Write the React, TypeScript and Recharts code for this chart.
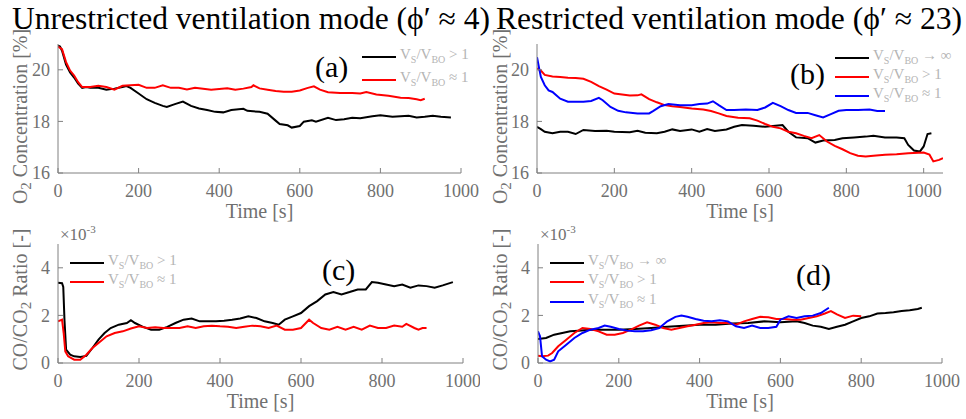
import { LineChart, Line, XAxis, YAxis, Legend, Label } from "recharts"

const FONT = "'Liberation Serif', 'Times New Roman', serif"
const AXIS = "#808080"
const TICK_TEXT = "#707070"
const LEGEND_TEXT = "#b4b4b4"

const xTicks = [0, 200, 400, 600, 800, 1000]
const o2Ticks = [16, 18, 20]
const coTicks = [0, 2, 4]

// (a) O2, unrestricted mode
const aBlackT = [0, 5, 10, 20, 30, 40, 50, 60, 70, 80, 100, 120, 140, 160, 170, 180, 200, 220, 240, 260, 270, 290, 310, 330, 350, 370, 390, 410, 430, 460, 470, 500, 520, 540, 550, 570, 580, 600, 610, 630, 640, 670, 690, 710, 730, 750, 780, 800, 830, 850, 870, 890, 910, 930, 950, 975]
const aBlackV = [20.94, 20.9, 20.74, 20.2, 19.9, 19.7, 19.46, 19.3, 19.33, 19.3, 19.3, 19.23, 19.27, 19.33, 19.37, 19.3, 19.08, 18.86, 18.72, 18.6, 18.56, 18.67, 18.77, 18.6, 18.5, 18.44, 18.37, 18.35, 18.44, 18.49, 18.41, 18.37, 18.3, 18.03, 17.9, 17.85, 17.76, 17.82, 17.99, 18.04, 17.99, 18.14, 18.05, 18.08, 18.14, 18.12, 18.2, 18.24, 18.18, 18.2, 18.22, 18.15, 18.18, 18.22, 18.18, 18.15]
const aRedT = [0, 10, 20, 30, 40, 50, 60, 80, 100, 120, 140, 160, 180, 200, 220, 240, 260, 280, 300, 320, 340, 360, 380, 400, 420, 440, 460, 480, 485, 500, 520, 540, 560, 580, 600, 620, 635, 650, 670, 700, 730, 750, 765, 790, 820, 850, 870, 890, 900, 910]
const aRedV = [20.9, 20.8, 20.3, 19.97, 19.78, 19.52, 19.33, 19.33, 19.38, 19.33, 19.23, 19.38, 19.4, 19.42, 19.3, 19.3, 19.4, 19.3, 19.3, 19.24, 19.3, 19.27, 19.23, 19.26, 19.28, 19.23, 19.27, 19.33, 19.4, 19.28, 19.23, 19.18, 19.15, 19.15, 19.2, 19.3, 19.36, 19.23, 19.13, 19.1, 19.1, 19.08, 19.14, 19.04, 18.99, 18.92, 18.91, 18.86, 18.82, 18.88]

// (b) O2, restricted mode
const bBlackT = [0, 10, 20, 40, 60, 80, 100, 120, 150, 180, 200, 240, 260, 280, 310, 330, 350, 370, 400, 420, 440, 460, 490, 510, 530, 560, 590, 610, 635, 650, 670, 700, 720, 740, 770, 790, 820, 850, 870, 900, 930, 950, 960, 975, 990, 1000, 1010, 1020]
const bBlackV = [17.79, 17.7, 17.6, 17.54, 17.6, 17.6, 17.51, 17.67, 17.63, 17.64, 17.6, 17.58, 17.64, 17.56, 17.54, 17.6, 17.69, 17.63, 17.69, 17.6, 17.7, 17.63, 17.69, 17.79, 17.86, 17.83, 17.79, 17.82, 17.86, 17.6, 17.38, 17.35, 17.18, 17.26, 17.28, 17.35, 17.38, 17.41, 17.44, 17.38, 17.38, 17.35, 17.09, 16.87, 16.83, 17.03, 17.51, 17.54]
const bRedT = [0, 10, 20, 40, 60, 80, 100, 120, 140, 160, 180, 200, 220, 240, 260, 270, 290, 310, 330, 350, 370, 400, 430, 450, 470, 490, 520, 550, 570, 590, 610, 630, 650, 670, 690, 710, 730, 750, 770, 790, 810, 830, 850, 870, 900, 930, 960, 1000, 1015, 1025, 1040, 1050]
const bRedV = [20.06, 19.97, 19.8, 19.74, 19.72, 19.69, 19.68, 19.65, 19.53, 19.37, 19.23, 19.08, 19.04, 19.0, 19.01, 19.05, 18.86, 18.74, 18.63, 18.59, 18.56, 18.5, 18.46, 18.4, 18.31, 18.21, 18.14, 18.12, 18.03, 17.9, 17.79, 17.73, 17.6, 17.54, 17.44, 17.35, 17.47, 17.22, 17.05, 16.92, 16.77, 16.67, 16.64, 16.67, 16.71, 16.73, 16.77, 16.79, 16.71, 16.45, 16.51, 16.58]
const bBlueT = [0, 5, 10, 20, 30, 40, 60, 80, 100, 120, 140, 160, 170, 190, 210, 230, 260, 290, 300, 320, 340, 370, 400, 420, 440, 455, 470, 490, 510, 540, 570, 590, 610, 630, 650, 670, 700, 720, 740, 760, 780, 800, 830, 860, 880, 900]
const bBlueV = [20.49, 20.1, 19.72, 19.4, 19.2, 19.14, 18.88, 18.76, 18.76, 18.76, 18.79, 18.91, 18.82, 18.56, 18.41, 18.35, 18.31, 18.31, 18.4, 18.59, 18.67, 18.63, 18.63, 18.67, 18.69, 18.78, 18.63, 18.44, 18.44, 18.46, 18.44, 18.54, 18.72, 18.59, 18.44, 18.33, 18.33, 18.24, 18.15, 18.28, 18.41, 18.44, 18.44, 18.46, 18.4, 18.4]

// (c) CO/CO2, unrestricted mode (x 1e-3)
const cBlackT = [0, 10, 13, 16, 20, 30, 40, 55, 70, 85, 100, 115, 130, 150, 170, 180, 190, 210, 230, 250, 270, 290, 310, 330, 350, 370, 390, 410, 430, 450, 470, 490, 510, 530, 545, 560, 580, 600, 620, 640, 660, 680, 700, 720, 740, 760, 775, 790, 810, 830, 850, 870, 890, 910, 930, 950, 975]
const cBlackV = [3.37, 3.35, 3.2, 1.8, 0.56, 0.35, 0.28, 0.25, 0.3, 0.63, 0.98, 1.26, 1.47, 1.61, 1.68, 1.8, 1.68, 1.52, 1.4, 1.4, 1.52, 1.68, 1.82, 1.87, 1.75, 1.75, 1.75, 1.78, 1.82, 1.87, 1.96, 1.89, 1.75, 1.68, 1.61, 1.82, 1.96, 2.1, 2.39, 2.6, 2.88, 2.98, 2.88, 2.98, 3.09, 3.09, 3.4, 3.37, 3.3, 3.23, 3.3, 3.16, 3.26, 3.23, 3.16, 3.26, 3.4]
const cRedT = [0, 10, 14, 18, 25, 40, 55, 70, 85, 100, 120, 140, 160, 180, 200, 220, 240, 260, 280, 300, 320, 340, 360, 380, 400, 420, 440, 460, 480, 500, 520, 540, 560, 580, 600, 620, 630, 650, 670, 690, 710, 730, 750, 770, 790, 810, 830, 850, 860, 880, 890, 900, 910]
const cRedV = [1.75, 1.82, 1.26, 0.49, 0.28, 0.14, 0.14, 0.35, 0.63, 0.84, 1.12, 1.26, 1.33, 1.45, 1.54, 1.47, 1.5, 1.47, 1.47, 1.47, 1.54, 1.47, 1.54, 1.57, 1.54, 1.52, 1.47, 1.52, 1.57, 1.54, 1.47, 1.57, 1.4, 1.4, 1.47, 1.82, 1.68, 1.47, 1.4, 1.52, 1.4, 1.52, 1.4, 1.57, 1.47, 1.47, 1.57, 1.52, 1.64, 1.47, 1.4, 1.47, 1.47]

// (d) CO/CO2, restricted mode (x 1e-3)
const dBlackT = [0, 20, 40, 60, 80, 100, 130, 160, 200, 240, 280, 320, 360, 400, 440, 480, 520, 560, 600, 640, 660, 680, 700, 720, 740, 760, 780, 800, 820, 840, 860, 880, 900, 920, 940, 950]
const dBlackV = [1.01, 1.05, 1.19, 1.26, 1.33, 1.36, 1.4, 1.4, 1.4, 1.43, 1.47, 1.52, 1.57, 1.61, 1.61, 1.66, 1.68, 1.75, 1.71, 1.75, 1.68, 1.57, 1.52, 1.43, 1.52, 1.61, 1.75, 1.89, 1.96, 2.08, 2.1, 2.13, 2.18, 2.22, 2.27, 2.32]
const dRedT = [0, 10, 25, 35, 50, 70, 90, 110, 130, 150, 170, 190, 210, 230, 250, 270, 290, 310, 330, 350, 370, 390, 410, 430, 450, 470, 490, 510, 530, 550, 570, 590, 610, 630, 650, 670, 690, 710, 725, 740, 760, 780, 800]
const dRedV = [0.31, 0.28, 0.31, 0.42, 0.7, 0.98, 1.26, 1.47, 1.43, 1.33, 1.19, 1.19, 1.26, 1.4, 1.57, 1.71, 1.61, 1.47, 1.4, 1.47, 1.54, 1.61, 1.68, 1.71, 1.68, 1.68, 1.61, 1.75, 1.85, 1.94, 1.92, 1.85, 1.85, 1.82, 1.82, 1.89, 1.96, 2.08, 2.18, 2.04, 1.89, 1.99, 1.96]
const dBlueT = [0, 5, 10, 20, 30, 40, 50, 70, 90, 110, 130, 150, 165, 180, 200, 220, 240, 260, 280, 300, 320, 340, 355, 370, 390, 410, 430, 450, 470, 490, 510, 530, 550, 570, 590, 600, 620, 640, 660, 680, 700, 720]
const dBlueV = [1.33, 1.12, 0.28, 0.14, 0.07, 0.14, 0.49, 0.77, 1.05, 1.26, 1.4, 1.47, 1.57, 1.52, 1.43, 1.36, 1.33, 1.33, 1.38, 1.47, 1.75, 1.94, 1.99, 1.94, 1.85, 1.78, 1.75, 1.8, 1.75, 1.54, 1.47, 1.57, 1.47, 1.47, 1.52, 1.82, 1.96, 1.89, 1.96, 1.99, 2.1, 2.32]

const pts = (t: number[], v: number[]) => t.map((x, i) => ({ t: x, v: v[i] }))

type Series = { name: string; color: string; data: { t: number; v: number }[] }

function LegendBox({ series, gap }: { series: Series[]; gap: number }) {
  return (
    <div style={{ fontFamily: FONT }}>
      {series.map((s) => (
        <div key={s.name} style={{ display: "flex", alignItems: "center", height: gap }}>
          <svg width={34} height={4} style={{ marginRight: 4 }}>
            <line x1={0} y1={2} x2={34} y2={2} stroke={s.color} strokeWidth={2} />
          </svg>
          <span style={{ color: LEGEND_TEXT, fontSize: 15, lineHeight: "15px", whiteSpace: "nowrap" }}>
            V<sub style={{ fontSize: 10 }}>S</sub>/V<sub style={{ fontSize: 10 }}>BO</sub> {s.name}
          </span>
        </div>
      ))}
    </div>
  )
}

function Panel(props: {
  left: number
  top: number
  width: number
  height: number
  margin: { top: number; right: number; bottom: number; left: number }
  plotH: number
  yWidth: number
  xMax: number
  yDomain: [number, number]
  yTicks: number[]
  yLabel: "o2" | "co"
  series: Series[]
  legendAt: { left: number; top: number; gap: number }
  tag: string
  tagAt: { left: number; top: number }
  exp?: boolean
}) {
  const { margin, yWidth, xMax, yDomain, yTicks, series } = props
  const yLabel = (lp: any) => {
    const vb = lp.viewBox
    const cx = vb.x + 20
    const cy = vb.y + vb.height / 2 + (props.yLabel === "o2" ? 8 : -4)
    return (
      <text
        x={cx}
        y={cy}
        transform={`rotate(-90 ${cx} ${cy})`}
        textAnchor="middle"
        dominantBaseline="central"
        fill={TICK_TEXT}
        fontSize={20}
        style={{ fontFamily: FONT }}
      >
        {props.yLabel === "o2" ? (
          <>
            <tspan>O</tspan>
            <tspan dy={6} fontSize={15}>2</tspan>
            <tspan dy={-6}> Concentration [%]</tspan>
          </>
        ) : (
          <>
            <tspan>CO/CO</tspan>
            <tspan dy={6} fontSize={15}>2</tspan>
            <tspan dy={-6}> Ratio [-]</tspan>
          </>
        )}
      </text>
    )
  }
  const xLabel = (lp: any) => {
    const vb = lp.viewBox
    return (
      <text
        x={vb.x + vb.width / 2}
        y={vb.y + 38}
        textAnchor="middle"
        dominantBaseline="central"
        fill={TICK_TEXT}
        fontSize={20}
        style={{ fontFamily: FONT }}
      >
        Time [s]
      </text>
    )
  }
  const expLabel = (lp: any) => {
    const vb = lp.viewBox
    return (
      <text x={vb.x + vb.width + 2} y={vb.y - 4} fill={TICK_TEXT} fontSize={17} style={{ fontFamily: FONT }}>
        ×10
        <tspan dy={-7} fontSize={11}>-3</tspan>
      </text>
    )
  }
  const tickStyle = { fill: TICK_TEXT, fontSize: 18, style: { fontFamily: FONT } }
  return (
    <div style={{ position: "absolute", left: props.left, top: props.top }}>
      <LineChart width={props.width} height={props.height} data={series[0].data} margin={margin}>
        <XAxis
          dataKey="t"
          type="number"
          domain={[0, xMax]}
          ticks={xTicks}
          height={props.height - margin.top - margin.bottom - props.plotH}
          allowDataOverflow
          stroke={AXIS}
          tick={tickStyle}
          tickSize={-5}
          tickMargin={16}
          interval={0}
        >
          <Label content={xLabel} />
        </XAxis>
        <XAxis
          xAxisId="top"
          orientation="top"
          dataKey="t"
          type="number"
          domain={[0, xMax]}
          ticks={xTicks}
          height={0}
          allowDataOverflow
          stroke={AXIS}
          tick={false}
          tickSize={-5}
        />
        <YAxis
          type="number"
          domain={yDomain}
          ticks={yTicks}
          width={yWidth}
          allowDataOverflow
          stroke={AXIS}
          tick={tickStyle}
          tickSize={-5}
          tickMargin={13}
          interval={0}
        >
          <Label content={yLabel} />
          {props.exp ? <Label content={expLabel} /> : null}
        </YAxis>
        <YAxis
          yAxisId="r"
          orientation="right"
          type="number"
          domain={yDomain}
          ticks={yTicks}
          width={0}
          allowDataOverflow
          stroke={AXIS}
          tick={false}
          tickSize={-5}
        />
        {series.map((s) => (
          <Line
            key={s.name}
            data={s.data}
            dataKey="v"
            name={s.name}
            stroke={s.color}
            strokeWidth={2}
            dot={false}
            isAnimationActive={false}
          />
        ))}
        <Legend
          layout="vertical"
          align="center"
          verticalAlign="middle"
          wrapperStyle={{ left: props.legendAt.left, top: props.legendAt.top, width: 130 }}
          content={() => <LegendBox series={series} gap={props.legendAt.gap} />}
        />
      </LineChart>
      <div
        style={{
          position: "absolute",
          left: props.tagAt.left,
          top: props.tagAt.top,
          fontFamily: FONT,
          fontSize: 30,
          lineHeight: "30px",
          color: "#000",
        }}
      >
        {props.tag}
      </div>
    </div>
  )
}

const aSeries: Series[] = [
  { name: "> 1", color: "#000000", data: pts(aBlackT, aBlackV) },
  { name: "≈ 1", color: "#ff0000", data: pts(aRedT, aRedV) },
]
const bSeries: Series[] = [
  { name: "→ ∞", color: "#000000", data: pts(bBlackT, bBlackV) },
  { name: "> 1", color: "#ff0000", data: pts(bRedT, bRedV) },
  { name: "≈ 1", color: "#0000ff", data: pts(bBlueT, bBlueV) },
]
const cSeries: Series[] = [
  { name: "> 1", color: "#000000", data: pts(cBlackT, cBlackV) },
  { name: "≈ 1", color: "#ff0000", data: pts(cRedT, cRedV) },
]
const dSeries: Series[] = [
  { name: "→ ∞", color: "#000000", data: pts(dBlackT, dBlackV) },
  { name: "> 1", color: "#ff0000", data: pts(dRedT, dRedV) },
  { name: "≈ 1", color: "#0000ff", data: pts(dBlueT, dBlueV) },
]

export default function App() {
  return (
    <div
      style={{
        position: "absolute",
        left: 0,
        top: 0,
        width: 966,
        height: 419,
        background: "#fff",
        overflow: "hidden",
        fontFamily: FONT,
      }}
    >
      <style>{"svg text { font-family: 'Liberation Serif', 'Times New Roman', serif; }"}</style>
      <svg width={966} height={40} style={{ position: "absolute", left: 0, top: 0 }}>
        <text x={12} y={29} fontSize={31} fill="#000" textLength={478} lengthAdjust="spacingAndGlyphs" style={{ fontFamily: FONT }}>
          Unrestricted ventilation mode (ϕ′ ≈ 4)
        </text>
        <text x={496} y={29} fontSize={31} fill="#000" textLength={466} lengthAdjust="spacingAndGlyphs" style={{ fontFamily: FONT }}>
          Restricted ventilation mode (ϕ′ ≈ 23)
        </text>
      </svg>
      <Panel
        left={0}
        top={30}
        width={480}
        height={200}
        margin={{ top: 14, right: 19, bottom: 0, left: 0 }}
        plotH={129}
        yWidth={58}
        xMax={1000}
        yDomain={[16, 21]}
        yTicks={o2Ticks}
        yLabel="o2"
        series={aSeries}
        legendAt={{ left: 362, top: 15, gap: 23 }}
        tag="(a)"
        tagAt={{ left: 315, top: 22 }}
      />
      <Panel
        left={480}
        top={30}
        width={486}
        height={200}
        margin={{ top: 14, right: 23, bottom: 0, left: 0 }}
        plotH={129}
        yWidth={57}
        xMax={1050}
        yDomain={[16, 21]}
        yTicks={o2Ticks}
        yLabel="o2"
        series={bSeries}
        legendAt={{ left: 355, top: 18, gap: 19 }}
        tag="(b)"
        tagAt={{ left: 310, top: 29 }}
      />
      <Panel
        left={0}
        top={215}
        width={480}
        height={204}
        margin={{ top: 29, right: 17, bottom: 0, left: 0 }}
        plotH={119}
        yWidth={58}
        xMax={1000}
        yDomain={[0, 5]}
        yTicks={coTicks}
        yLabel="co"
        series={cSeries}
        legendAt={{ left: 70, top: 38, gap: 19 }}
        tag="(c)"
        tagAt={{ left: 322, top: 40 }}
        exp
      />
      <Panel
        left={480}
        top={215}
        width={486}
        height={204}
        margin={{ top: 29, right: 24, bottom: 0, left: 0 }}
        plotH={119}
        yWidth={58}
        xMax={1000}
        yDomain={[0, 5]}
        yTicks={coTicks}
        yLabel="co"
        series={dSeries}
        legendAt={{ left: 70, top: 38, gap: 19.5 }}
        tag="(d)"
        tagAt={{ left: 316, top: 45 }}
        exp
      />
    </div>
  )
}
